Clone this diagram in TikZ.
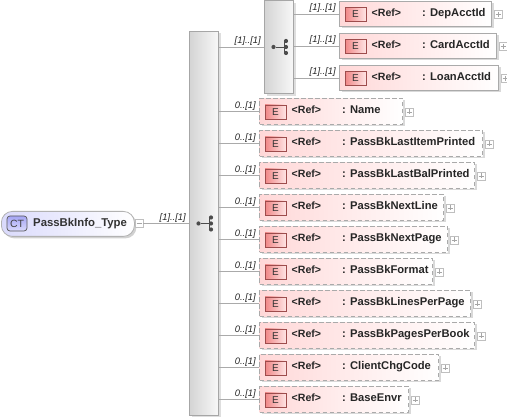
\documentclass[tikz,border=0pt]{standalone}
\usepackage{fontspec}
\setmainfont{Liberation Sans}
\usetikzlibrary{shadows,calc}
\definecolor{conn}{RGB}{170,170,170}
\definecolor{elborder}{RGB}{170,170,170}
\definecolor{elpink}{RGB}{255,216,216}
\definecolor{iconred}{RGB}{240,135,135}
\definecolor{iconlight}{RGB}{255,228,228}
\definecolor{ctblue}{RGB}{165,165,245}
\definecolor{ctpale}{RGB}{218,218,252}
\definecolor{seqgray}{RGB}{212,212,212}
\definecolor{seqlight}{RGB}{248,248,248}
\tikzset{
  x=1pt,y=-1pt,
  elbase/.style={rectangle,draw=elborder,line width=1pt,left color=elpink,right color=white,inner sep=0,
    drop shadow={shadow xshift=2pt,shadow yshift=-2pt,fill=black,opacity=0.15}},
  elsolid/.style={elbase},
  eldash/.style={elbase,dash pattern=on 4.5pt off 2.5pt},
  eicon/.style={rectangle,draw=black!55!red!70,line width=0.8pt,minimum width=21pt,minimum height=14pt,inner sep=0,
    left color=iconred,right color=iconlight,font=\fontsize{10}{11}\selectfont,text=black!80},
  reftext/.style={anchor=base west,inner sep=0,font=\fontsize{10.6}{12}\selectfont\bfseries,text=black!85},
  nametext/.style={anchor=base west,inner sep=0,font=\fontsize{11.2}{12}\selectfont\bfseries,text=black!85},
  plusbox/.style={rectangle,draw=black!25,line width=0.6pt,fill=white,minimum size=8pt,inner sep=0},
  conline/.style={draw=conn,line width=0.7pt},
  mult/.style={anchor=base east,inner sep=0,font=\fontsize{9.4}{10}\selectfont\itshape,text=black!85},
  seqbox/.style={rectangle,draw=black!35,line width=1pt,left color=seqgray,right color=seqlight,inner sep=0,
    drop shadow={shadow xshift=2pt,shadow yshift=-2pt,fill=black,opacity=0.13}},
  ctbox/.style={rectangle,rounded corners=11pt,draw=black!30,line width=0.8pt,left color=ctpale,right color=white,inner sep=0,
    drop shadow={shadow xshift=2pt,shadow yshift=-2pt,fill=black,opacity=0.18}},
  ctico/.style={rectangle,rounded corners=3pt,draw=black!65,line width=0.7pt,top color=ctblue,bottom color=ctpale,
    minimum width=20pt,minimum height=15pt,inner sep=0,font=\fontsize{10.5}{11}\selectfont,text=black!75},
  icondot/.style={circle,fill=black!70,inner sep=0,minimum size=4.2pt},
  iconline/.style={draw=black!70,line width=0.8pt},
}
% name, text, left, right, top, bottom, style, hub, multiplicity
\newcommand{\elemnode}[9]{%
  \node[#7,minimum width=#4pt-#3pt,minimum height=#6pt-#5pt,anchor=north west] (#1) at (#3,#5) {};
  \node[eicon] (#1i) at ($(#1.west)+(16.5,0.5)$) {E};
  \node[reftext] (#1r) at ($(#1.west)+(32.5,2.5)$) {<Ref>};
  \node[nametext] (#1t) at ($(#1.west)+(83,2.5)$) {: #2};
  \node[plusbox] (#1p) at ($(#1.east)+(6,0.5)$) {};
  \draw[draw=black!35,line width=0.6pt] ($(#1p)+(-2.5,0)$) -- ($(#1p)+(2.5,0)$) ($(#1p)+(0,-2.5)$) -- ($(#1p)+(0,2.5)$);
  \draw[conline] (#8.east |- #1.west) -- (#1.west);
  \node[mult] (#1m) at ($(#1.west)+(-3,-3)$) {#9};
}
% name, centre: sequence glyph
\newcommand{\seqglyph}[2]{%
  \node[icondot] (#1a) at ($(#2)+(-6,0)$) {};
  \node[icondot] (#1b) at ($(#2)+(6.5,-6)$) {};
  \node[icondot] (#1c) at ($(#2)+(6.5,0)$) {};
  \node[icondot] (#1d) at ($(#2)+(6.5,6)$) {};
  \draw[iconline] (#1a) -- (#1c) ($(#2)+(4.5,-6)$) -- ($(#2)+(4.5,6)$);
  \draw[iconline] ($(#2)+(4.5,-6)$) -- (#1b) ($(#2)+(4.5,6)$) -- (#1d);
}
\begin{document}
\begin{tikzpicture}
\useasboundingbox (0,0) rectangle (507,419);
% main sequence and choice
\node[seqbox,minimum width=29pt,minimum height=384pt,anchor=north west] (mainseq) at (189,31) {};
\node[seqbox,minimum width=29pt,minimum height=93pt,anchor=north west] (choice) at (264,0.5) {};
% complex type
\node[ctbox,minimum width=133pt,minimum height=25pt,anchor=north west] (ct) at (1,211) {};
\node[ctico] (cti) at (17,223.5) {CT};
\node[anchor=base west,inner sep=0,font=\fontsize{11.35}{12}\selectfont\bfseries,text=black!80] (ctt) at (33,226.5) {PassBkInfo\_Type};
\node[plusbox] (ctm) at (139,223.5) {};
\draw[draw=black!35,line width=0.6pt] ($(ctm)+(-2.5,0)$) -- ($(ctm)+(2.5,0)$);
\coordinate (mainin) at (mainseq.west |- ctm);
\draw[conline] (ctm.east) -- (mainin);
\node[mult] (ctmult) at (186,220.5) {[1]..[1]};
\seqglyph{gm}{204.5,223.5}
% main sequence to choice
\coordinate (chin) at (choice.west |- 0,47);
\draw[conline] (mainseq.east |- chin) -- (chin);
\node[mult] (chmult) at (261,44) {[1]..[1]};
\seqglyph{gc}{279.5,47}
% elements
\elemnode{dep}{DepAcctId}{339}{491}{1}{26}{elsolid}{choice}{[1]..[1]}
\elemnode{card}{CardAcctId}{339}{496}{33}{58}{elsolid}{choice}{[1]..[1]}
\elemnode{loan}{LoanAcctId}{339}{498}{65}{90}{elsolid}{choice}{[1]..[1]}
\elemnode{name}{Name}{259}{402}{98}{124}{eldash}{mainseq}{0..[1]}
\elemnode{item}{PassBkLastItemPrinted}{259}{482}{130}{156}{eldash}{mainseq}{0..[1]}
\elemnode{bal}{PassBkLastBalPrinted}{259}{474}{162}{188}{eldash}{mainseq}{0..[1]}
\elemnode{line}{PassBkNextLine}{259}{443}{194}{220}{eldash}{mainseq}{0..[1]}
\elemnode{page}{PassBkNextPage}{259}{447}{226}{252}{eldash}{mainseq}{0..[1]}
\elemnode{fmt}{PassBkFormat}{259}{432}{258}{284}{eldash}{mainseq}{0..[1]}
\elemnode{lpp}{PassBkLinesPerPage}{259}{470}{290}{316}{eldash}{mainseq}{0..[1]}
\elemnode{ppb}{PassBkPagesPerBook}{259}{474}{322}{348}{eldash}{mainseq}{0..[1]}
\elemnode{chg}{ClientChgCode}{259}{438}{354}{380}{eldash}{mainseq}{0..[1]}
\elemnode{env}{BaseEnvr}{259}{408}{386}{412}{eldash}{mainseq}{0..[1]}
\end{tikzpicture}
\end{document}
